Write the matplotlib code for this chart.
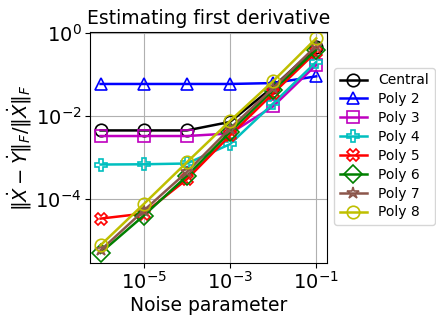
import numpy as np
import matplotlib
matplotlib.use('Agg')
import matplotlib.pyplot as plt

noise = [1e-6, 1e-5, 1e-4, 1e-3, 1e-2, 1e-1]

central = [4.5e-3, 4.5e-3, 4.5e-3, 7.2e-3, 5.0e-2, 4.5e-1]
poly2 = [5.9e-2, 5.9e-2, 5.9e-2, 5.9e-2, 6.2e-2, 9.0e-2]
poly3 = [3.3e-3, 3.3e-3, 3.3e-3, 3.8e-3, 1.7e-2, 1.7e-1]
poly4 = [6.8e-4, 6.9e-4, 7.2e-4, 2.1e-3, 2.0e-2, 2.0e-1]
poly5 = [3.4e-5, 4.5e-5, 3.0e-4, 3.4e-3, 3.5e-2, 3.5e-1]
poly6 = [5.1e-6, 4.0e-5, 3.6e-4, 4.1e-3, 4.2e-2, 3.9e-1]
poly7 = [5.9e-6, 5.3e-5, 4.5e-4, 5.0e-3, 4.7e-2, 4.9e-1]
poly8 = [7.8e-6, 7.6e-5, 7.7e-4, 7.6e-3, 6.9e-2, 7.4e-1]

series = [central, poly2, poly3, poly4, poly5, poly6, poly7, poly8]
labels = ['Central', 'Poly 2', 'Poly 3', 'Poly 4', 'Poly 5', 'Poly 6', 'Poly 7', 'Poly 8']
colors = ['k', 'b', 'm', 'c', 'r', 'g', '#8c564b', 'y']
markers = ['o', '^', 's', 'P', 'X', 'D', '*', 'o']

fig = plt.figure(figsize=(4.36, 3.2), dpi=100)
ax = fig.add_axes([0.206, 0.178, 0.544, 0.722])

for y, lab, c, m in zip(series, labels, colors, markers):
    ax.plot(noise, y, color=c, marker=m, label=lab, markersize=9,
            fillstyle='none', linewidth=1.8, markeredgewidth=1.2)

ax.set_xscale('log')
ax.set_yscale('log')
ax.set_ylim(2.9e-6, 1.05)
ax.set_xticks([1e-5, 1e-3, 1e-1])
ax.tick_params(labelsize=14, pad=2.5)
ax.grid(True)
ax.set_title('Estimating first derivative', fontsize=13.5)
ax.set_xlabel('Noise parameter', fontsize=13.5, labelpad=2)
ax.set_ylabel(r'$\|\dot{X}-\dot{Y}\|_F/\|\dot{X}\|_F$', fontsize=14, labelpad=1)
ax.legend(loc='upper left', bbox_to_anchor=(1.0, 0.875), fontsize=10,
          labelspacing=0.35, handlelength=2.0)

fig.savefig('out.png', dpi=100)
